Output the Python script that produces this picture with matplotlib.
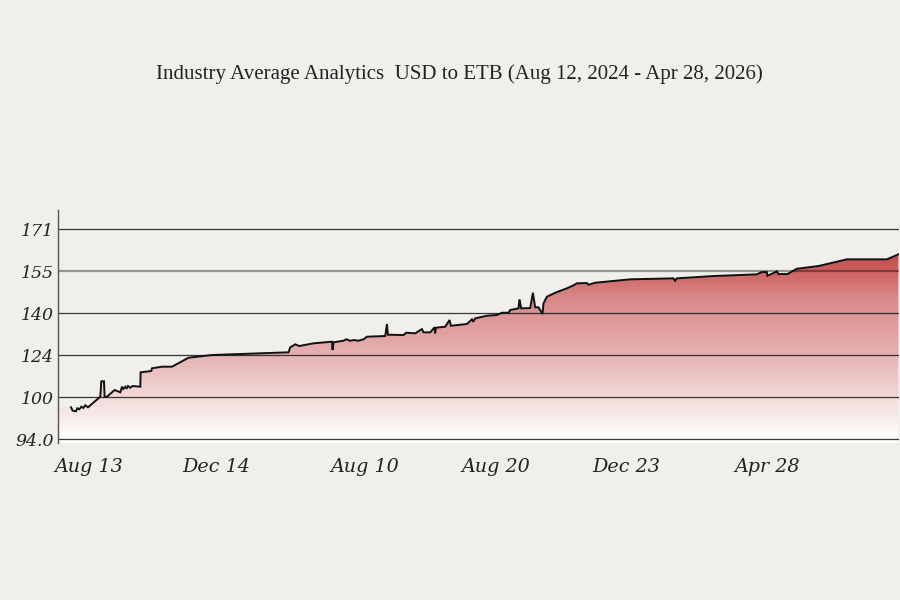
import numpy as np
import matplotlib
matplotlib.use("Agg")
import matplotlib.pyplot as plt
from matplotlib.colors import LinearSegmentedColormap

# ---- data (x = position along the index axis, y = USD to ETB rate) ----
x_pos = [12.7, 14.3, 17.7, 19, 21, 23, 25, 27, 29.7, 42, 43, 45.7, 46.3, 48.7,
         56.3, 62, 63.7, 65, 67, 68.3, 69.7, 72, 74.3, 82, 82.3, 93, 93.7, 103.7,
         113.7, 130.3, 153.7, 230.3, 232, 237, 241, 255.3, 273.7, 274.3, 275.3,
         285.3, 288, 292, 296, 300, 305.3, 308.7, 327, 328.7, 329.7, 345.3, 348,
         357, 363.7, 365.3, 372, 376.3, 377, 377.7, 387, 391.3, 392.7, 408.7,
         413.7, 415, 417, 428.7, 438.7, 443.7, 450.3, 452, 460.3, 461.3, 463,
         472, 474.7, 477, 480.3, 484.3, 485.3, 488.7, 497, 508.7, 515.3, 518.7,
         528.7, 530.3, 537, 572, 615.3, 617, 618.7, 655.3, 698.7, 703.7, 708.7,
         709.3, 714.7, 718.7, 720.3, 729.3, 738.7, 760.3, 788.7, 828.7, 840.3]
rate = [105.73, 104.49, 104.27, 105.37, 105.0, 105.95, 105.48, 106.47, 105.73,
        109.62, 115.27, 115.27, 109.62, 109.62, 112.08, 111.23, 113.29, 112.44,
        113.29, 112.55, 113.54, 112.92, 113.54, 113.29, 118.57, 119.04, 120.03,
        120.62, 120.62, 123.92, 124.91, 125.9, 127.73, 128.83, 128.21, 129.2,
        129.79, 126.74, 129.57, 130.15, 130.67, 130.15, 130.41, 130.15, 130.67,
        131.62, 131.88, 136.28, 132.35, 132.24, 133.09, 132.87, 134.44, 133.23,
        133.23, 135.07, 132.87, 134.92, 135.29, 137.74, 135.65, 136.28, 138.0,
        137.12, 138.37, 139.32, 139.58, 140.42, 140.42, 141.41, 142.03, 145.33,
        142.03, 142.14, 147.75, 142.4, 142.4, 139.94, 143.87, 146.29, 147.75,
        149.37, 150.47, 151.2, 151.31, 150.69, 151.42, 152.67, 153.03, 152.15,
        153.03, 153.88, 154.5, 155.34, 155.34, 153.99, 154.87, 155.6, 154.61,
        154.61, 156.55, 157.54, 160.0, 160.0, 161.83]

x_tick_pos = [30.3, 157.5, 306.7, 438, 568, 708.7]
x_tick_labels = ["Aug 13", "Dec 14", "Aug 10", "Aug 20", "Dec 23", "Apr 28"]
y_ticks = [94.0, 109.4, 124.8, 140.2, 155.6, 171.0]
y_tick_labels = ["94.0", "100", "124", "140", "155", "171"]

title = "Industry Average Analytics  USD to ETB (Aug 12, 2024 - Apr 28, 2026)"

# ---- figure ----
BG = "#f0efeb"
fig = plt.figure(figsize=(9, 6), dpi=100, facecolor=BG)
ax = fig.add_axes([0.0648, 0.2622, 0.9342, 0.3878])
ax.set_facecolor(BG)

x_min, x_max = 0, 841
y_min, y_max = 92.75, 178.1
ax.set_xlim(x_min, x_max)
ax.set_ylim(y_min, y_max)

# fill polygon (extended to left axis edge with the first value)
fx = np.concatenate([[x_min], x_pos])
fy = np.concatenate([[rate[0]], rate])
poly = ax.fill_between(fx, fy, y_min, color="none", lw=0, zorder=1)

cmap = LinearSegmentedColormap.from_list(
    "redfade", [(0.0, "#ffffff"), (0.45, "#e6b0b0"), (0.75, "#d98686"), (1.0, "#c3403f")])
grad = np.linspace(0, 1, 256).reshape(-1, 1)
top_val = max(rate) + 2
img = ax.imshow(grad, cmap=cmap, aspect="auto", origin="lower",
                extent=[x_min, x_max, 94.0, top_val], zorder=1)
img2 = ax.imshow(np.zeros((2, 1)), cmap=cmap, vmin=0, vmax=1, aspect="auto",
                 origin="lower", extent=[x_min, x_max, y_min, 94.0], zorder=1)
for im in (img, img2):
    im.set_clip_path(poly.get_paths()[0], transform=ax.transData)
ax.set_xlim(x_min, x_max)
ax.set_ylim(y_min, y_max)

# gridlines above fill
for t in y_ticks:
    if abs(t - 155.6) < 0.01:
        ax.axhline(t, color="black", alpha=0.38, lw=1.6, zorder=2)
    else:
        ax.axhline(t, color="#222222", alpha=0.9, lw=0.9, zorder=2)

ax.plot(x_pos, rate, color="#111111", lw=1.4, zorder=3, solid_joinstyle="miter")

# axes styling
for s in ["top", "right", "bottom"]:
    ax.spines[s].set_visible(False)
ax.spines["left"].set_color("#555555")
ax.spines["left"].set_linewidth(1.0)

ax.set_yticks(y_ticks)
ax.set_yticklabels(y_tick_labels, family="DejaVu Serif", style="italic",
                   size=12.5, color="#222222")
ax.set_xticks(x_tick_pos)
ax.set_xticklabels(x_tick_labels, family="DejaVu Serif", style="italic",
                   size=13.8, color="#222222")
ax.tick_params(axis="both", length=0)
ax.tick_params(axis="y", pad=3)
ax.tick_params(axis="x", pad=11)

fig.text(459 / 900, 1 - 74 / 600, title, ha="center", va="center",
         family="Liberation Serif", size=15, color="#222222")

fig.savefig("out.png", dpi=100, facecolor=BG)
